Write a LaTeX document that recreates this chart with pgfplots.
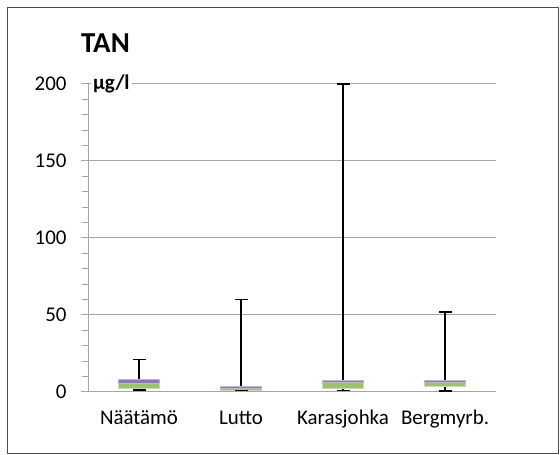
\documentclass[border=0pt]{standalone}
\usepackage{fontspec}
\setmainfont{Carlito}
\usepackage{pgfplots}
\pgfplotsset{compat=1.18}
\definecolor{boxgreen}{HTML}{9BC46A}
\definecolor{boxpurple}{HTML}{8C78B8}
\definecolor{gridgray}{HTML}{A6A6A6}
\definecolor{framegray}{HTML}{4A4A4A}
\begin{document}
\begin{tikzpicture}[x=1bp,y=1bp]
\useasboundingbox (0,0) rectangle (560,455);
\draw[framegray, line width=1.5bp] (7.5,1.5) rectangle (558.5,447.5);
\node[anchor=base west, inner sep=0pt, font=\fontsize{29}{33}\selectfont\bfseries] at (81,402) {TAN};
\begin{axis}[
  at={(88bp,63bp)}, anchor=south west,
  scale only axis, width=408bp, height=308bp,
  xmin=0.5, xmax=4.5, ymin=0, ymax=200,
  axis x line*=bottom, axis y line*=left,
  x axis line style={-, gridgray, line width=1bp},
  y axis line style={-, gridgray, line width=1bp},
  xtick={1,2,3,4},
  xticklabels={Näätämö, Lutto, Karasjohka, Bergmyrb.},
  minor xtick={0.5,1.5,2.5,3.5,4.5},
  ytick={0,50,100,150,200},
  minor ytick={10,20,30,40,60,70,80,90,110,120,130,140,160,170,180,190},
  tick align=outside,
  major tick length=7bp, minor tick length=6bp,
  xtick style={draw=none},
  minor x tick style={gridgray, line width=1bp},
  ytick style={gridgray, line width=1bp},
  minor y tick style={gridgray, line width=1bp},
  ymajorgrids, major grid style={gridgray, line width=1bp},
  tick label style={font=\fontsize{21}{25}\selectfont},
  /pgf/number format/assume math mode=true,
  yticklabel style={xshift=-11bp},
  xticklabel style={anchor=base, yshift=-26bp},
  clip=false,
]
% whiskers: y = min, += (0, max-min)
\addplot[draw=none, mark=none, forget plot,
  error bars/.cd, y dir=plus, y explicit,
  error mark=|,
  error bar style={black, line width=1.6bp},
  error mark options={black, mark size=6.5bp, line width=1.6bp}]
  coordinates {
  (1,1.2) += (0,19.8)
  (2,1.0) += (0,59.0)
  (3,1.0) += (0,199.0)
  (4,0.8) += (0,51.2)
  };
% lower caps
\addplot[draw=none, mark=-, mark size=6.5bp, mark options={black, line width=1.6bp}, forget plot]
  coordinates {(1,1.2) (2,1.0) (3,1.0) (4,0.8)};
% boxes: lower part (green), upper part (purple)
\addplot[fill=boxgreen, draw=boxgreen!55!white, line width=0.8bp] coordinates {(0.8,2.6) (1.2,2.6) (1.2,5.4) (0.8,5.4)} -- cycle;
\addplot[fill=boxpurple, draw=boxpurple!55!white, line width=0.8bp] coordinates {(0.8,5.4) (1.2,5.4) (1.2,8.4) (0.8,8.4)} -- cycle;
\addplot[fill=boxgreen, draw=boxgreen!55!white, line width=0.8bp] coordinates {(1.8,1.3) (2.2,1.3) (2.2,2.5) (1.8,2.5)} -- cycle;
\addplot[fill=boxpurple, draw=boxpurple!55!white, line width=0.8bp] coordinates {(1.8,2.5) (2.2,2.5) (2.2,3.4) (1.8,3.4)} -- cycle;
\addplot[fill=boxgreen, draw=boxgreen!55!white, line width=0.8bp] coordinates {(2.8,2.2) (3.2,2.2) (3.2,6.5) (2.8,6.5)} -- cycle;
\addplot[fill=boxpurple, draw=boxpurple!55!white, line width=0.8bp] coordinates {(2.8,6.5) (3.2,6.5) (3.2,7.8) (2.8,7.8)} -- cycle;
\addplot[fill=boxgreen, draw=boxgreen!55!white, line width=0.8bp] coordinates {(3.8,3.9) (4.2,3.9) (4.2,6.5) (3.8,6.5)} -- cycle;
\addplot[fill=boxpurple, draw=boxpurple!55!white, line width=0.8bp] coordinates {(3.8,6.5) (4.2,6.5) (4.2,7.8) (3.8,7.8)} -- cycle;
\node[anchor=west, fill=white, inner sep=2bp, font=\fontsize{21}{25}\selectfont\bfseries] at (axis cs:0.5,200) [xshift=3bp] {µg/l};
\end{axis}
\end{tikzpicture}
\end{document}
